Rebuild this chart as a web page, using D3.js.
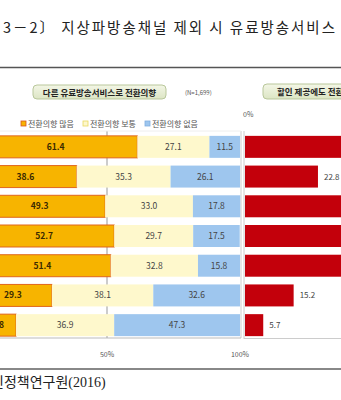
<!DOCTYPE html>
<html><head><meta charset="utf-8">
<script src="https://cdn.jsdelivr.net/npm/d3@7/dist/d3.min.js"></script>
<style>html,body{margin:0;padding:0;background:#fff;overflow:hidden}</style>
</head><body>
<svg id="c" width="341" height="400"></svg>
<script>
// ---- data ----
const categories = ["r1","r2","r3","r4","r5","r6","r7"];
const seriesNames = ["전환의향 많음","전환의향 보통","전환의향 없음"];
const high = [61.4, 38.6, 49.3, 52.7, 51.4, 29.3, 15.8];
const mid  = [27.1, 35.3, 33.0, 29.7, 32.8, 38.1, 36.9];
const low  = [11.5, 26.1, 17.8, 17.5, 15.8, 32.6, 47.3];
const discount = [38.5, 22.8, 34.0, 36.2, 35.0, 15.2, 5.7];
const xTicks = [50, 100];
const colors = ["#F7B400", "#FEF8CC", "#9EC6EE"];

const svg = d3.select("#c");
const font = "'Noto Sans CJK KR','Noto Sans',sans-serif";

// title
svg.append("text").attr("x",3).attr("y",33)
  .attr("font-family",font).attr("font-size",14.5).attr("fill","#222")
  .attr("textLength",332).attr("lengthAdjust","spacing")
  .text("3－2〕 지상파방송채널 제외 시 유료방송서비스");

svg.append("line").attr("x1",0).attr("x2",341).attr("y1",67.5).attr("y2",67.5)
  .attr("stroke","#555").attr("stroke-width",1.5);
svg.append("line").attr("x1",0).attr("x2",341).attr("y1",369).attr("y2",369)
  .attr("stroke","#888").attr("stroke-width",2);

// header boxes
const grad = svg.append("defs").append("linearGradient").attr("id","hg")
  .attr("x1",0).attr("y1",0).attr("x2",0).attr("y2",1);
grad.append("stop").attr("offset","0%").attr("stop-color","#F3F6E6");
grad.append("stop").attr("offset","100%").attr("stop-color","#DCE5C4");
svg.append("rect").attr("x",33).attr("y",85).attr("width",133).attr("height",14).attr("rx",4)
  .attr("fill","url(#hg)").attr("stroke","#B9C79B");
svg.append("text").attr("x",99.5).attr("y",95.5).attr("text-anchor","middle")
  .attr("font-family",font).attr("font-size",8.5).attr("font-weight","bold").attr("fill","#222")
  .text("다른 유료방송서비스로 전환의향");
svg.append("text").attr("x",185).attr("y",95).attr("font-family",font).attr("font-size",6).attr("fill","#555")
  .text("(N=1,699)");
svg.append("rect").attr("x",263).attr("y",84).attr("width",100).attr("height",15).attr("rx",4)
  .attr("fill","url(#hg)").attr("stroke","#B9C79B");
svg.append("text").attr("x",277).attr("y",95).attr("font-family",font).attr("font-size",8.5)
  .attr("font-weight","bold").attr("fill","#222").text("할인 제공에도 전환의향");

// legend
const legX = [21, 83, 145];
seriesNames.forEach((n,i)=>{
  svg.append("rect").attr("x",legX[i]).attr("y",121).attr("width",5).attr("height",5)
    .attr("fill",colors[i]).attr("stroke", i===0?"#D9541E":(i===1?"#E8D860":"#7FAEE0")).attr("stroke-width",0.8);
  svg.append("text").attr("x",legX[i]+7).attr("y",127).attr("font-family",font).attr("font-size",8)
    .attr("fill","#555").text(n);
});

// scales
const x = d3.scaleLinear().domain([0,100]).range([-26,240]);
const y = d3.scaleBand().domain(categories).range([132,340]).paddingInner(0.26).paddingOuter(0.13);
const xr = d3.scaleLinear().domain([0,10]).range([245,277]);

// left panel frame
svg.append("line").attr("x1",x(50)).attr("x2",x(50)).attr("y1",131).attr("y2",338).attr("stroke","#999");
svg.append("line").attr("x1",241).attr("x2",241).attr("y1",131).attr("y2",338).attr("stroke","#ccc");
svg.append("line").attr("x1",0).attr("x2",241).attr("y1",338).attr("y2",338).attr("stroke","#bbb");
svg.append("line").attr("x1",0).attr("x2",241).attr("y1",131).attr("y2",131).attr("stroke","#eee");

// stacked bars
const rows = categories.map((c,i)=>({c, v:[high[i],mid[i],low[i]]}));
const g = svg.append("g");
rows.forEach(r=>{
  let acc = 0;
  r.v.forEach((v,k)=>{
    const x0 = x(acc), x1 = x(acc+v);
    g.append("rect").attr("x",x0).attr("y",y(r.c)).attr("width",x1-x0).attr("height",y.bandwidth())
      .attr("fill",colors[k]).attr("stroke",k===0?"#E0661C":"none").attr("stroke-width",k===0?1:0);
    g.append("text").attr("x",(x0+x1)/2).attr("y",y(r.c)+y.bandwidth()/2+3)
      .attr("text-anchor","middle").attr("font-family",font).attr("font-size",8.5)
      .attr("font-weight",k===0?"bold":"normal")
      .attr("fill",k===0?"#3A2A00":"#444").text(v.toFixed(1));
    acc += v;
  });
});

// axis labels
xTicks.forEach(t=>{
  svg.append("text").attr("x",x(t)).attr("y",357).attr("text-anchor","middle")
    .attr("font-family",font).attr("font-size",7).attr("fill","#555").text(t+"%");
});

// right panel
svg.append("line").attr("x1",244).attr("x2",244).attr("y1",131).attr("y2",339).attr("stroke","#ccc");
svg.append("line").attr("x1",244).attr("x2",341).attr("y1",338.5).attr("y2",338.5).attr("stroke","#ccc");
svg.append("text").attr("x",243).attr("y",117).attr("font-family",font).attr("font-size",7).attr("fill","#555").text("0%");
categories.forEach((c,i)=>{
  svg.append("rect").attr("x",xr(0)).attr("y",y(c)).attr("width",xr(discount[i])-xr(0)).attr("height",y.bandwidth())
    .attr("fill","#C3000B");
  svg.append("text").attr("x",xr(discount[i])+6).attr("y",y(c)+y.bandwidth()/2+3)
    .attr("font-family",font).attr("font-size",8).attr("fill","#444").text(discount[i].toFixed(1));
});

// source
svg.append("text").attr("x",-9).attr("y",387).attr("font-family","'Liberation Serif','Noto Sans CJK KR',serif")
  .attr("font-size",14).attr("fill","#222").text("신정책연구원(2016)");
</script>
</body></html>
